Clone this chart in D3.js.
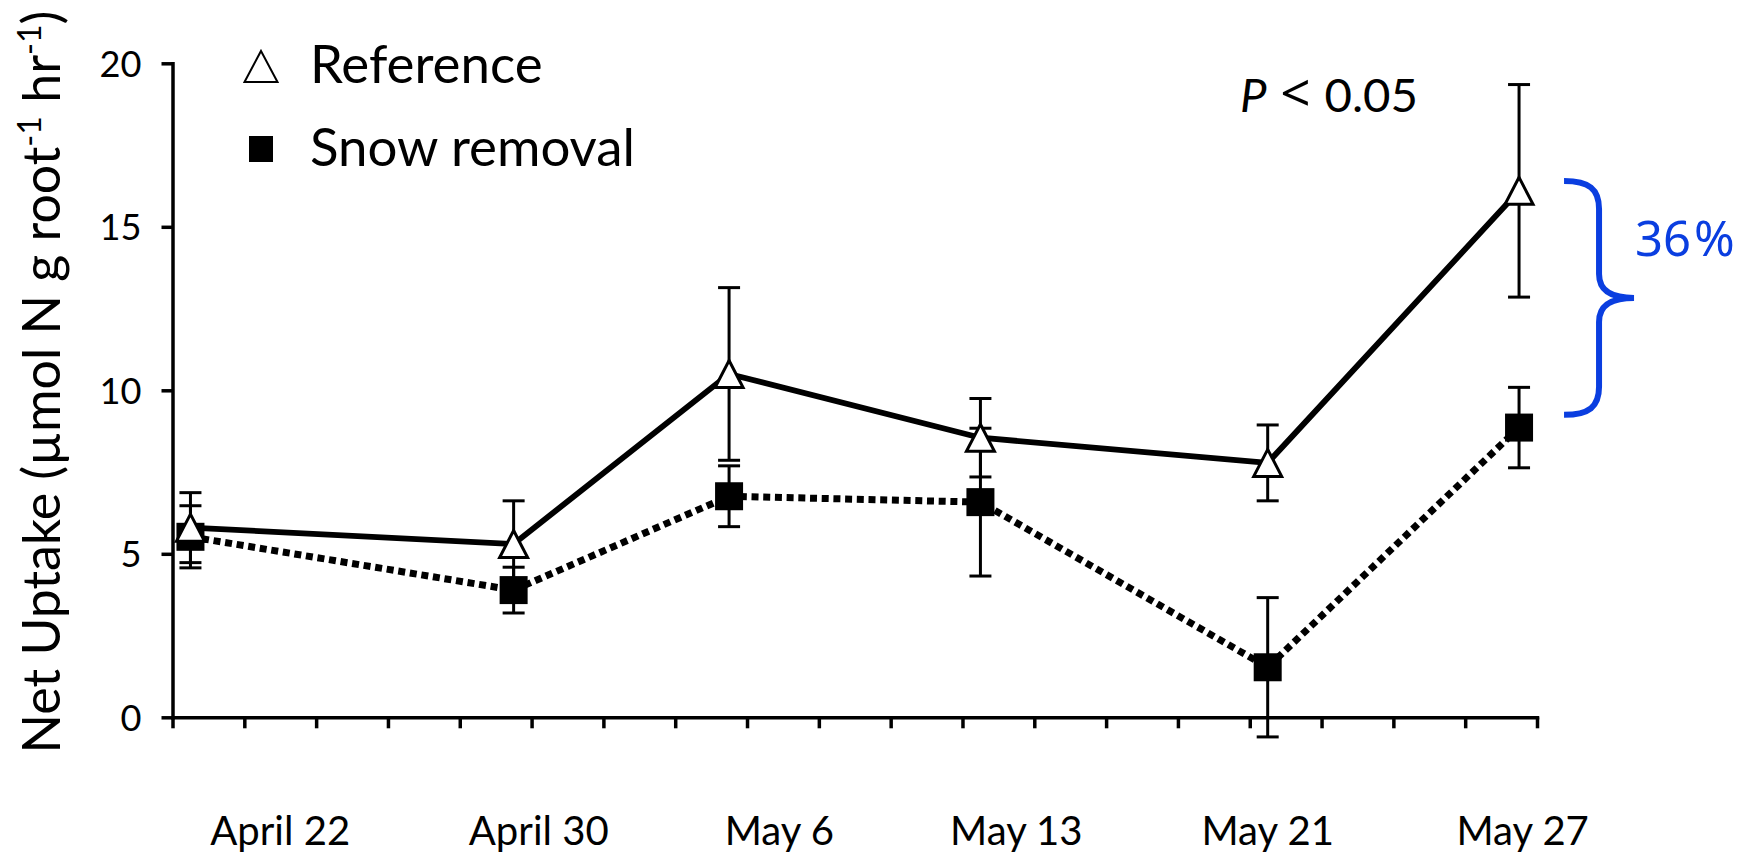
<!DOCTYPE html>
<html>
<head>
<meta charset="utf-8">
<script src="https://cdn.jsdelivr.net/npm/d3@7"></script>
<style>
  html, body { margin: 0; padding: 0; background: #fff; }
  svg { display: block; }
</style>
</head>
<body>
<svg id="chart" width="1752" height="854"></svg>
<script>
// ---------------- data ----------------
const dateLabels = ["April 22", "April 30", "May 6", "May 13", "May 21", "May 27"];
// sampling positions on the day axis (days after April 21.5)
const sampleDay = [0.5, 9.5, 15.5, 22.5, 30.5, 37.5];
// where the date text boxes sit on the day axis
const labelDay = [3.0, 10.2, 16.9, 23.5, 30.5, 37.6];
const referenceMean = [5.8, 5.3, 10.5, 8.55, 7.78, 16.1];
const referenceErr  = [1.07, 1.32, 2.64, 1.2, 1.16, 3.25];
const snowMean = [5.52, 3.89, 6.76, 6.58, 1.53, 8.86];
const snowErr  = [0.95, 0.7, 0.93, 2.26, 2.13, 1.23];
const yTicks = [0, 5, 10, 15, 20];
const xMinorTicks = d3.range(0, 39, 2);
const seriesNames = ["Reference", "Snow removal"];
const pText = ["P", " < ", "0.05"];
const diffLabel = ["36", "%"];
const braceRange = [16.4, 9.25];

// ---------------- layout ----------------
const FONT = "Lato, 'Liberation Sans', sans-serif";
const svg = d3.select("#chart");
const x = d3.scaleLinear().domain([0, 38]).range([172.5, 1537]);
const y = d3.scaleLinear().domain([0, 20]).range([717.3, 63.3]);

function fitWidth(sel, target) {
  const w = sel.node().getComputedTextLength();
  const fs = parseFloat(sel.attr("font-size"));
  sel.attr("font-size", fs * target / w);
  return fs * target / w;
}

// ---------------- axes ----------------
const yAxis = svg.append("g")
  .attr("transform", `translate(${x(0)},0)`)
  .call(d3.axisLeft(y).tickValues(yTicks).tickSize(11).tickSizeOuter(0).tickPadding(20));
yAxis.select(".domain").attr("stroke", "#000").attr("stroke-width", 3.5).attr("stroke-linecap", "square");
yAxis.selectAll(".tick line").attr("stroke", "#000").attr("stroke-width", 3.5);
yAxis.selectAll(".tick text")
  .attr("font-family", FONT).attr("font-size", 38).attr("fill", "#000").attr("dy", "0.36em");

const xAxis = svg.append("g")
  .attr("transform", `translate(0,${y(0)})`)
  .call(d3.axisBottom(x).tickValues(xMinorTicks).tickSize(11).tickSizeOuter(0).tickFormat(""));
xAxis.select(".domain").attr("stroke", "#000").attr("stroke-width", 3.5).attr("stroke-linecap", "square");
xAxis.selectAll(".tick line").attr("stroke", "#000").attr("stroke-width", 3.5);

// fit tick label size so "20" is ~42px wide
{
  const t20 = yAxis.selectAll(".tick text").filter(d => d === 20);
  const fs = fitWidth(t20, 42);
  yAxis.selectAll(".tick text").attr("font-size", fs);
}

// date labels
const dl = svg.append("g").selectAll("text").data(dateLabels).join("text")
  .attr("x", (d, i) => x(labelDay[i]))
  .attr("y", 845)
  .attr("text-anchor", "middle")
  .attr("font-family", FONT).attr("font-size", 42).attr("fill", "#000")
  .text(d => d);
{
  const fs = fitWidth(d3.select(dl.nodes()[0]), 140);
  dl.attr("font-size", fs);
}

// y title
const title = svg.append("text")
  .attr("transform", `translate(60,382) rotate(-90)`)
  .attr("text-anchor", "middle")
  .attr("font-family", FONT).attr("font-size", 52).attr("fill", "#000");
title.append("tspan").text("Net Uptake (µmol N g root");
title.append("tspan").attr("baseline-shift", "super").attr("font-size", "62%").text("-1");
title.append("tspan").text(" hr");
title.append("tspan").attr("baseline-shift", "super").attr("font-size", "62%").text("-1");
title.append("tspan").text(")");
fitWidth(title, 743);

// ---------------- series ----------------
const idx = d3.range(dateLabels.length);
const line = arr => d3.line().x(i => x(sampleDay[i])).y(i => y(arr[i]))(idx);

svg.append("path").attr("d", line(referenceMean))
  .attr("fill", "none").attr("stroke", "#000").attr("stroke-width", 5.8).attr("stroke-linejoin", "round");
svg.append("path").attr("d", line(snowMean))
  .attr("fill", "none").attr("stroke", "#000").attr("stroke-width", 7)
  .attr("stroke-dasharray", "7,4.7");

function errorBars(mean, err) {
  const g = svg.append("g").attr("stroke", "#000").attr("stroke-width", 3);
  idx.forEach(i => {
    const cx = x(sampleDay[i]);
    const y1 = y(mean[i] + err[i]), y2 = y(mean[i] - err[i]);
    g.append("line").attr("x1", cx).attr("x2", cx).attr("y1", y1).attr("y2", y2);
    g.append("line").attr("x1", cx - 11).attr("x2", cx + 11).attr("y1", y1).attr("y2", y1);
    g.append("line").attr("x1", cx - 11).attr("x2", cx + 11).attr("y1", y2).attr("y2", y2);
  });
}
errorBars(referenceMean, referenceErr);
errorBars(snowMean, snowErr);

// snow markers (squares)
svg.append("g").selectAll("rect").data(idx).join("rect")
  .attr("x", i => x(sampleDay[i]) - 14)
  .attr("y", i => y(snowMean[i]) - 14)
  .attr("width", 28).attr("height", 28).attr("fill", "#000");

// reference markers (open triangles)
const tri = (cx, cy, w, h) => `M${cx},${cy - h / 2}L${cx + w / 2},${cy + h / 2}L${cx - w / 2},${cy + h / 2}Z`;
svg.append("g").selectAll("path").data(idx).join("path")
  .attr("d", i => tri(x(sampleDay[i]), y(referenceMean[i]), 28, 27))
  .attr("fill", "#fff").attr("stroke", "#000").attr("stroke-width", 3).attr("stroke-linejoin", "miter");

// ---------------- legend ----------------
svg.append("path").attr("d", tri(261, 66.5, 33, 31))
  .attr("fill", "#fff").attr("stroke", "#000").attr("stroke-width", 2);
svg.append("rect").attr("x", 249).attr("y", 136).attr("width", 24).attr("height", 26).attr("fill", "#000");
const lg1 = svg.append("text").attr("x", 310).attr("y", 82.5)
  .attr("font-family", FONT).attr("font-size", 46).attr("fill", "#000").text(seriesNames[0]);
const lg2 = svg.append("text").attr("x", 310).attr("y", 165.5)
  .attr("font-family", FONT).attr("font-size", 46).attr("fill", "#000").text(seriesNames[1]);
{
  const fs = fitWidth(lg2, 325);
  lg1.attr("font-size", fs);
}

// ---------------- annotations ----------------
const pt = svg.append("text").attr("x", 1240).attr("y", 111.5)
  .attr("font-family", FONT).attr("font-size", 48).attr("fill", "#000");
pt.append("tspan").attr("font-style", "italic").text(pText[0]);
pt.append("tspan").attr("font-family", "'Noto Sans', sans-serif").attr("font-size", "112%").text(pText[1]);
pt.append("tspan").text(pText[2]);
fitWidth(pt, 178);

// brace for the last date
{
  const bx = x(sampleDay[5]);
  const yt = y(braceRange[0]), yb = y(braceRange[1]), ym = (yt + yb) / 2;
  const x0 = bx + 45, x1 = bx + 80, x2 = bx + 115;
  const d = `M${x0},${yt} C${x0 + 25},${yt} ${x1},${yt + 8} ${x1},${yt + 28}` +
            ` L${x1},${ym - 24} C${x1},${ym - 6} ${x1 + 14},${ym} ${x2},${ym}` +
            ` C${x1 + 14},${ym} ${x1},${ym + 6} ${x1},${ym + 24}` +
            ` L${x1},${yb - 28} C${x1},${yb - 8} ${x0 + 25},${yb} ${x0},${yb}`;
  svg.append("path").attr("d", d).attr("fill", "none").attr("stroke", "#0a3ee0")
    .attr("stroke-width", 6).attr("stroke-linecap", "butt");
  const pc = svg.append("text").attr("x", 1635).attr("y", 256)
    .attr("font-family", "'Noto Sans', 'Open Sans', sans-serif").attr("font-size", 49).attr("fill", "#0a3ee0");
  pc.append("tspan").text(diffLabel[0]);
  pc.append("tspan").attr("dx", 3).text(diffLabel[1]);
}
</script>
</body>
</html>
